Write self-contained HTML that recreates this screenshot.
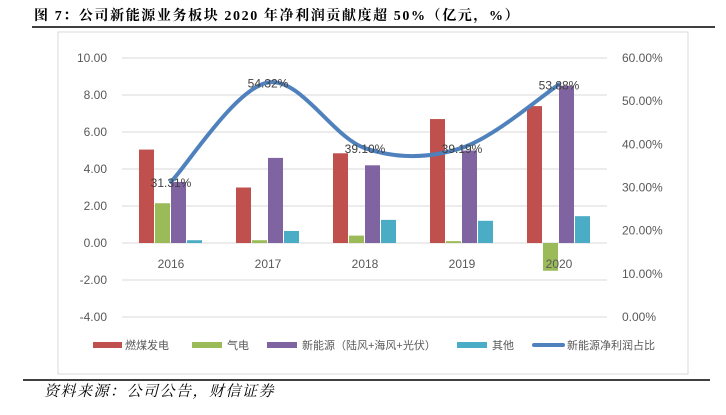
<!DOCTYPE html>
<html><head><meta charset="utf-8"><style>
body{margin:0;background:#fff;width:726px;height:410px;overflow:hidden;font-family:"Liberation Sans","Noto Sans CJK SC",sans-serif}
</style></head><body>
<svg width="726" height="410" xmlns="http://www.w3.org/2000/svg">
<text x="34" y="20" font-family="'Liberation Serif','Noto Serif CJK SC',serif" font-weight="bold" font-size="14" letter-spacing="1.6" fill="#000">图 7：公司新能源业务板块 2020 年净利润贡献度超 50%（亿元，%）</text>
<line x1="32" y1="27" x2="715" y2="27" stroke="#000" stroke-width="1.5"/>
<rect x="58" y="32" width="630" height="342" fill="none" stroke="#d9d9d9"/>
<g id="grid"></g>
<g id="bars"></g>
<g id="line"></g>
<g id="labels"></g>
<g font-size="11" fill="#595959" font-family="'Liberation Sans','Noto Sans CJK SC',sans-serif">
<rect x="93" y="342" width="29" height="6" fill="#c0504d"/><text x="125" y="349">燃煤发电</text>
<rect x="192" y="342" width="30" height="6" fill="#9bbb59"/><text x="227" y="349">气电</text>
<rect x="267" y="342" width="30" height="6" fill="#8064a2"/><text x="302" y="349">新能源（陆风+海风+光伏）</text>
<rect x="457" y="342" width="30" height="6" fill="#4bacc6"/><text x="492" y="349">其他</text>
<line x1="534" y1="345" x2="563" y2="345" stroke="#4f81bd" stroke-width="4" stroke-linecap="round"/><text x="567" y="349">新能源净利润占比</text>
</g>
<line x1="23" y1="380" x2="710" y2="380" stroke="#000" stroke-width="1.5"/>
<text x="44" y="396" font-size="15" letter-spacing="1.5" font-style="italic" fill="#000" font-family="'Liberation Serif','Noto Serif CJK SC',serif">资料来源：公司公告，财信证券</text>
</svg>
<script>
const categories=["2016","2017","2018","2019","2020"];
const coal=[5.05,3.0,4.85,6.7,7.4];
const gas=[2.15,0.15,0.4,0.1,-1.5];
const renewable=[3.3,4.6,4.2,5.0,8.5];
const other=[0.15,0.65,1.25,1.2,1.45];
const share=[31.31,54.32,39.10,39.19,53.88];
const leftTicks=["10.00","8.00","6.00","4.00","2.00","0.00","-2.00","-4.00"];
const rightTicks=["60.00%","50.00%","40.00%","30.00%","20.00%","10.00%","0.00%"];
const NS="http://www.w3.org/2000/svg";
const yL=v=>243-v*18.5;
const yR=p=>317-p*4.317;
const xC=i=>171+i*97;
function mk(t,a,p){const e=document.createElementNS(NS,t);for(const k in a)e.setAttribute(k,a[k]);document.getElementById(p).appendChild(e);return e;}
leftTicks.forEach(t=>{const v=parseFloat(t);
 const g=mk('line',{x1:122,x2:607,y1:yL(v),y2:yL(v),stroke:'#d9d9d9'},'grid');
 
 
 const l=mk('text',{x:107,y:yL(v)+4,'text-anchor':'end','font-size':12,fill:'#595959'},'labels');l.textContent=t;
 
 
});
rightTicks.forEach(t=>{const v=parseFloat(t);
 const l=mk('text',{x:622,y:yR(v)+4,'font-size':12,fill:'#595959'},'labels');l.textContent=t;
 
 
});
const series=[[coal,'#c0504d','bar-coal'],[gas,'#9bbb59','bar-gas'],[renewable,'#8064a2','bar-renewable'],[other,'#4bacc6','bar-other']];
categories.forEach((c,i)=>{
 series.forEach((s,j)=>{const v=s[0][i];const x=xC(i)-32+j*16;
  const r=mk('rect',{x:x,y:Math.min(yL(v),yL(0)),width:15,height:Math.abs(yL(v)-yL(0)),fill:s[1]},'bars');
  
  
 });
 const l=mk('text',{x:xC(i),y:268,'text-anchor':'middle','font-size':12,fill:'#595959'},'labels');l.textContent=c;
 
 
});
const pts=share.map((p,i)=>[xC(i),yR(p)]);
let d='M'+pts[0][0]+','+pts[0][1];
for(let i=0;i<pts.length-1;i++){const p0=pts[Math.max(0,i-1)],p1=pts[i],p2=pts[i+1],p3=pts[Math.min(pts.length-1,i+2)];
 d+=' C'+(p1[0]+(p2[0]-p0[0])/6)+','+(p1[1]+(p2[1]-p0[1])/6)+' '+(p2[0]-(p3[0]-p1[0])/6)+','+(p2[1]-(p3[1]-p1[1])/6)+' '+p2[0]+','+p2[1];}
const path=mk('path',{d:d,fill:'none',stroke:'#4f81bd','stroke-width':4,'stroke-linecap':'round'},'line');


share.forEach((p,i)=>{const t=mk('text',{x:xC(i),y:yR(p)+5,'text-anchor':'middle','font-size':12,fill:'#404040'},'line');t.textContent=p.toFixed(2)+'%';
 
 
});
</script>
</body></html>
